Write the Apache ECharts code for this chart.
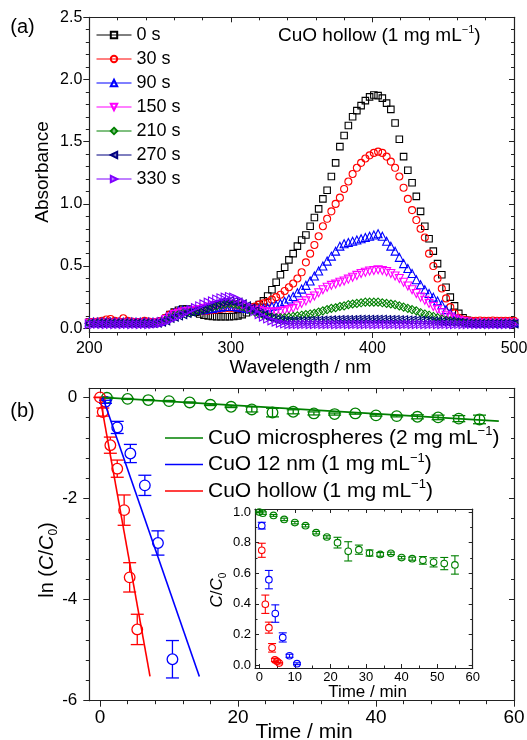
<!DOCTYPE html>
<html><head><meta charset="utf-8">
<script src="https://cdn.jsdelivr.net/npm/echarts@6.0.0/dist/echarts.min.js"></script>
<style>html,body{margin:0;padding:0;background:#fff}#c{width:527px;height:740px}</style>
</head><body><div id="c"></div>
<script>
const FONT = 'Liberation Sans, Arial, Helvetica, sans-serif';

// ---------- (a) UV-vis spectra ----------
const wavelengths = [200,203,206,209,212,215,218,221,224,227,230,233,236,239,242,245,248,251,254,257,260,263,266,269,272,275,278,281,284,287,290,293,296,299,302,305,308,311,314,317,320,323,326,329,332,335,338,341,344,347,350,353,356,359,362,365,368,371,374,377,380,383,386,389,392,395,398,401,404,407,410,413,416,419,422,425,428,431,434,437,440,443,446,449,452,455,458,461,464,467,470,473,476,479,482,485,488,491,494,497,500];

const abs0s = [0.05,0.05,0.051,0.05,0.049,0.05,0.05,0.051,0.05,0.05,
0.05,0.05,0.05,0.049,0.05,0.05,0.052,0.06,0.08,0.11,
0.13,0.145,0.155,0.155,0.145,0.13,0.115,0.105,0.10,0.095,
0.093,0.092,0.092,0.093,0.095,0.10,0.11,0.125,0.15,0.17,
0.19,0.22,0.26,0.31,0.37,0.43,0.49,0.55,0.60,0.66,
0.71,0.75,0.82,0.89,0.96,1.04,1.11,1.22,1.33,1.46,
1.55,1.63,1.70,1.75,1.79,1.83,1.86,1.875,1.87,1.85,
1.81,1.76,1.65,1.52,1.38,1.27,1.17,1.06,0.94,0.82,
0.72,0.62,0.52,0.43,0.33,0.25,0.18,0.12,0.085,0.065,
0.05,0.045,0.042,0.04,0.04,0.04,0.04,0.04,0.04,0.04,0.04];

const abs30s = [0.05,0.052,0.055,0.06,0.07,0.075,0.06,0.055,0.08,0.06,
0.055,0.05,0.05,0.06,0.055,0.05,0.052,0.06,0.085,0.11,
0.125,0.135,0.14,0.14,0.14,0.138,0.136,0.138,0.14,0.145,
0.15,0.155,0.16,0.16,0.16,0.16,0.16,0.162,0.165,0.175,
0.19,0.20,0.21,0.23,0.25,0.27,0.30,0.33,0.36,0.40,
0.45,0.53,0.60,0.67,0.74,0.82,0.88,0.94,1.00,1.05,
1.12,1.18,1.24,1.29,1.33,1.365,1.39,1.41,1.42,1.41,
1.38,1.34,1.29,1.22,1.13,1.04,0.95,0.87,0.80,0.73,
0.60,0.50,0.40,0.32,0.24,0.17,0.12,0.085,0.07,0.065,
0.06,0.06,0.062,0.06,0.06,0.062,0.06,0.06,0.06,0.06,0.06];

const abs90s = [0.05,0.05,0.05,0.05,0.05,0.05,0.05,0.05,0.05,0.05,
0.05,0.05,0.05,0.05,0.05,0.05,0.052,0.06,0.08,0.105,
0.125,0.14,0.145,0.145,0.145,0.145,0.148,0.15,0.155,0.16,
0.165,0.17,0.175,0.175,0.175,0.17,0.165,0.16,0.155,0.155,
0.155,0.16,0.165,0.175,0.185,0.20,0.215,0.235,0.255,0.285,
0.315,0.345,0.38,0.42,0.46,0.50,0.54,0.58,0.62,0.66,
0.68,0.69,0.70,0.71,0.72,0.73,0.74,0.75,0.76,0.74,
0.70,0.66,0.62,0.57,0.52,0.48,0.44,0.39,0.35,0.31,
0.28,0.25,0.22,0.19,0.15,0.12,0.09,0.07,0.055,0.05,
0.045,0.045,0.045,0.045,0.045,0.045,0.045,0.045,0.045,0.045,0.045];

const abs150s = [0.04,0.04,0.04,0.04,0.04,0.04,0.04,0.04,0.04,0.04,
0.04,0.04,0.04,0.04,0.04,0.04,0.042,0.05,0.07,0.09,
0.11,0.12,0.13,0.135,0.14,0.145,0.15,0.16,0.17,0.18,
0.185,0.19,0.195,0.195,0.19,0.185,0.175,0.165,0.155,0.145,
0.14,0.135,0.13,0.13,0.13,0.135,0.14,0.15,0.16,0.18,
0.20,0.22,0.24,0.26,0.285,0.31,0.33,0.345,0.355,0.37,
0.38,0.395,0.41,0.425,0.44,0.45,0.46,0.465,0.47,0.465,
0.455,0.44,0.42,0.40,0.37,0.34,0.31,0.28,0.25,0.225,
0.20,0.175,0.15,0.125,0.105,0.09,0.075,0.065,0.055,0.05,
0.04,0.04,0.04,0.04,0.04,0.04,0.04,0.04,0.04,0.04,0.04];

const abs210s = [0.04,0.04,0.04,0.04,0.04,0.04,0.04,0.04,0.04,0.04,
0.04,0.04,0.04,0.04,0.04,0.04,0.042,0.05,0.065,0.08,
0.10,0.11,0.12,0.125,0.13,0.135,0.14,0.15,0.16,0.17,
0.18,0.19,0.195,0.20,0.195,0.19,0.175,0.16,0.145,0.13,
0.115,0.105,0.095,0.09,0.085,0.085,0.085,0.09,0.095,0.10,
0.105,0.11,0.115,0.12,0.13,0.14,0.15,0.16,0.165,0.175,
0.18,0.19,0.195,0.20,0.205,0.21,0.21,0.21,0.21,0.205,
0.20,0.195,0.19,0.18,0.17,0.16,0.15,0.14,0.125,0.115,
0.105,0.095,0.085,0.075,0.065,0.06,0.055,0.05,0.045,0.04,
0.04,0.04,0.04,0.04,0.04,0.04,0.04,0.04,0.04,0.04,0.04];

const abs270s = [0.04,0.04,0.04,0.04,0.04,0.04,0.04,0.04,0.04,0.04,
0.04,0.04,0.04,0.04,0.04,0.04,0.042,0.05,0.06,0.08,
0.09,0.10,0.11,0.12,0.13,0.14,0.15,0.16,0.175,0.19,
0.20,0.21,0.215,0.22,0.215,0.21,0.195,0.18,0.16,0.14,
0.12,0.105,0.09,0.08,0.07,0.065,0.06,0.06,0.06,0.06,
0.06,0.06,0.062,0.062,0.064,0.065,0.066,0.067,0.068,0.07,
0.07,0.07,0.07,0.072,0.072,0.072,0.072,0.072,0.072,0.072,
0.07,0.07,0.07,0.068,0.068,0.066,0.065,0.064,0.063,0.062,
0.06,0.058,0.056,0.054,0.052,0.05,0.048,0.045,0.043,0.04,
0.038,0.036,0.035,0.035,0.035,0.035,0.035,0.035,0.035,0.035,0.035];

const abs330s = [0.032,0.03,0.033,0.031,0.03,0.032,0.03,0.031,0.03,0.032,
0.03,0.031,0.03,0.032,0.03,0.031,0.035,0.04,0.05,0.065,
0.08,0.095,0.11,0.13,0.15,0.165,0.18,0.195,0.21,0.22,
0.235,0.245,0.25,0.255,0.25,0.235,0.215,0.19,0.16,0.135,
0.11,0.09,0.075,0.06,0.05,0.04,0.035,0.03,0.03,0.03,
0.03,0.031,0.03,0.03,0.031,0.03,0.03,0.031,0.03,0.03,
0.031,0.03,0.03,0.031,0.03,0.03,0.031,0.03,0.03,0.031,
0.03,0.03,0.031,0.03,0.03,0.031,0.03,0.03,0.031,0.03,
0.03,0.031,0.03,0.03,0.031,0.03,0.03,0.031,0.03,0.03,
0.031,0.03,0.03,0.031,0.03,0.03,0.031,0.03,0.03,0.031,0.03];

const spectraNames = ['0 s','30 s','90 s','150 s','210 s','270 s','330 s'];
const spectraValues = [abs0s, abs30s, abs90s, abs150s, abs210s, abs270s, abs330s];
const absTicks = [0, 0.5, 1.0, 1.5, 2.0, 2.5];
const absMinorTicks = [0.1,0.2,0.3,0.4,0.6,0.7,0.8,0.9,1.1,1.2,1.3,1.4,1.6,1.7,1.8,1.9,2.1,2.2,2.3,2.4];
const wlTicks = [200, 300, 400, 500];
const wlMinorTicks = [220,240,260,280,320,340,360,380,420,440,460,480];

// ---------- (b) kinetics, ln(C/C0) ----------
const microTime = [1,4,7,10,13,16,19,22,25,28,31,34,37,40,43,46,49,52,55];
const microLn = [-0.008,-0.03,-0.053,-0.073,-0.10,-0.146,-0.186,-0.238,-0.30,-0.285,-0.317,-0.33,-0.317,-0.356,-0.37,-0.384,-0.396,-0.42,-0.436];
const microLnErr = [0.01,0.01,0.01,0.012,0.01,0.015,0.015,0.05,0.085,0.04,0.03,0.02,0.015,0.015,0.015,0.04,0.045,0.06,0.085];
const nm12Time = [0.8,2.5,4.4,6.5,8.4,10.5];
const nm12Ln = [-0.087,-0.594,-1.11,-1.74,-2.88,-5.18];
const nm12LnErr = [0.03,0.12,0.18,0.2,0.24,0.37];
const hollowTime = [0,0.4,1.5,2.5,3.5,4.3,5.4];
const hollowLn = [0,-0.29,-0.945,-1.41,-2.23,-3.56,-4.59];
const hollowLnErr = [0.005,0.08,0.16,0.17,0.3,0.29,0.3];
const microFit = [[0.3, 0], [57.8, -0.47]];
const nm12Fit = [[0.4, 0], [14.4, -5.52]];
const hollowFit = [[0, 0], [7.25, -5.52]];
const fitNames = ['CuO microspheres (2 mg mL−1)', 'CuO 12 nm (1 mg mL−1)', 'CuO hollow (1 mg mL−1)'];
const timeTicks = [0, 20, 40, 60];
const timeMinorTicks = [4,8,12,16,24,28,32,36,44,48,52,56];
const lnTicks = [-6, -4, -2, 0];
const lnMinorTicks = [-5.6,-5.2,-4.8,-4.4,-3.6,-3.2,-2.8,-2.4,-1.6,-1.2,-0.8,-0.4];

// ---------- (b) inset, C/C0 ----------
const insetMicroTime = [0,1,4,7,10,13,16,19,22,25,28,31,34,37,40,43,46,49,52,55];
const insetMicroC = [1.0,0.993,0.978,0.952,0.931,0.911,0.865,0.837,0.80,0.743,0.754,0.732,0.723,0.73,0.702,0.695,0.684,0.671,0.663,0.654];
const insetMicroErr = [0.005,0.008,0.006,0.008,0.008,0.008,0.008,0.008,0.035,0.063,0.03,0.02,0.012,0.008,0.008,0.01,0.025,0.03,0.04,0.06];
const insetNm12Time = [0.7,2.7,4.5,6.6,8.5,10.6];
const insetNm12C = [0.911,0.558,0.336,0.18,0.06,0.008];
const insetNm12Err = [0.022,0.06,0.057,0.03,0.01,0.006];
const insetHollowTime = [0.7,1.7,2.7,3.6,4.4,5.0,5.6];
const insetHollowC = [0.75,0.397,0.244,0.112,0.033,0.024,0.012];
const insetHollowErr = [0.046,0.06,0.036,0.028,0.01,0.008,0.005];
const insetTimeTicks = [0,10,20,30,40,50,60];
const insetTimeMinor = [5,15,25,35,45,55];
const insetCTicks = [0,0.2,0.4,0.6,0.8,1.0];
const insetCMinor = [0.1,0.3,0.5,0.7,0.9];

// ---------- styling ----------
const spectraColors = ['#000000','#ff0000','#0000ff','#ff00ff','#008000','#000080','#8000ff'];
const spectraSymbols = ['rect','circle','triangle','triangle','diamond','triangle','triangle'];
const spectraRotate = [0,0,0,180,0,90,-90];
const spectraSizes = [6.5,7,8,8,8,8,8];
const kinColors = ['#008000','#0000ff','#ff0000'];
const AX = '#222';

const xAxes = [], yAxes = [];
function mkAxis(g, s, pos, line, values, len, inside, labels) {
  return {
    type: 'value', gridIndex: g, min: s.min, max: s.max, position: pos, silent: true,
    axisLine: {show: line, onZero: false, lineStyle: {color: AX, width: 1.2}},
    axisTick: {show: true, inside: inside, length: len, customValues: values, lineStyle: {color: AX, width: 1}},
    axisLabel: labels ? {show: true, customValues: values, formatter: s.fmt, color: '#000',
      fontSize: s.fs, fontFamily: FONT, margin: s.margin} : {show: false},
    splitLine: {show: false}, minorTick: {show: false}, axisPointer: {show: false}
  };
}
function addAxes(g, xs, ys) {
  const xi = xAxes.length, yi = yAxes.length;
  [[xAxes, xs, 'bottom', 'top'], [yAxes, ys, 'left', 'right']].forEach(function (d) {
    const arr = d[0], s = d[1];
    arr.push(mkAxis(g, s, d[2], true, s.major, s.majLen, !s.out, true));
    arr.push(mkAxis(g, s, d[2], false, s.minor, s.minLen, !s.out, false));
    arr.push(mkAxis(g, s, d[3], true, s.major, s.oppMaj, true, false));
    arr.push(mkAxis(g, s, d[3], false, s.minor, s.oppMin, true, false));
  });
  return {xi: xi, yi: yi};
}
const fmt1 = function (v) { return v.toFixed(1); };
const fmt0 = function (v) { return String(Math.round(v)); };

const axA = addAxes(0,
  {min: 200, max: 500, major: wlTicks, minor: wlMinorTicks, fmt: fmt0, fs: 16, margin: 9, out: true, majLen: 6, minLen: 3.5, oppMaj: 5, oppMin: 3},
  {min: -0.03, max: 2.5, major: absTicks, minor: absMinorTicks, fmt: fmt1, fs: 16, margin: 7, out: true, majLen: 6, minLen: 3.5, oppMaj: 5, oppMin: 3});
const axB = addAxes(1,
  {min: -1.55, max: 60, major: timeTicks, minor: timeMinorTicks, fmt: fmt0, fs: 19, margin: 8, out: true, majLen: 6, minLen: 3.5, oppMaj: 5, oppMin: 3},
  {min: -6, max: 0.18, major: lnTicks, minor: lnMinorTicks, fmt: fmt0, fs: 17, margin: 12, out: true, majLen: 6, minLen: 3.5, oppMaj: 5, oppMin: 3});
const axI = addAxes(2,
  {min: -1.2, max: 60, major: insetTimeTicks, minor: insetTimeMinor, fmt: fmt0, fs: 13, margin: 3, out: false, majLen: 4, minLen: 2.5, oppMaj: 4, oppMin: 2.5},
  {min: -0.02, max: 1.02, major: insetCTicks, minor: insetCMinor, fmt: fmt1, fs: 13, margin: 4, out: false, majLen: 4, minLen: 2.5, oppMaj: 4, oppMin: 2.5});

function pairs(xs, ys, es) {
  return xs.map(function (x, i) { return es ? [x, ys[i], es[i]] : [x, ys[i]]; });
}
function errRender(color, r, capHalf, lw) {
  return function (params, api) {
    const t = api.value(0), v = api.value(1), e = api.value(2);
    const c = api.coord([t, v]);
    const hi = api.coord([t, v + e]);
    const lo = api.coord([t, v - e]);
    const st = {stroke: color, lineWidth: lw, fill: 'none'};
    const ch = [{type: 'circle', shape: {cx: c[0], cy: c[1], r: r}, style: st}];
    if (lo[1] - c[1] > r) {
      ch.push({type: 'line', shape: {x1: c[0], y1: hi[1], x2: c[0], y2: c[1] - r}, style: st});
      ch.push({type: 'line', shape: {x1: c[0], y1: c[1] + r, x2: c[0], y2: lo[1]}, style: st});
    } else {
      ch.push({type: 'line', shape: {x1: c[0], y1: hi[1], x2: c[0], y2: lo[1]}, style: st});
    }
    ch.push({type: 'line', shape: {x1: c[0] - capHalf, y1: hi[1], x2: c[0] + capHalf, y2: hi[1]}, style: st});
    ch.push({type: 'line', shape: {x1: c[0] - capHalf, y1: lo[1], x2: c[0] + capHalf, y2: lo[1]}, style: st});
    return {type: 'group', children: ch};
  };
}

const series = [];
spectraNames.forEach(function (name, k) {
  const c = spectraColors[k];
  series.push({
    type: 'line', name: name, xAxisIndex: axA.xi, yAxisIndex: axA.yi,
    data: pairs(wavelengths, spectraValues[k]),
    symbol: spectraSymbols[k], symbolSize: spectraSizes[k], symbolRotate: spectraRotate[k],
    showSymbol: true, showAllSymbol: true, clip: true,
    lineStyle: {color: c, width: 0},
    itemStyle: {color: 'rgba(255,255,255,0)', borderColor: c, borderWidth: 1.1},
    emphasis: {disabled: true}
  });
});
const mainSets = [[microTime, microLn, microLnErr], [nm12Time, nm12Ln, nm12LnErr], [hollowTime, hollowLn, hollowLnErr]];
const fits = [microFit, nm12Fit, hollowFit];
mainSets.forEach(function (s, k) {
  series.push({
    type: 'custom', xAxisIndex: axB.xi, yAxisIndex: axB.yi,
    data: pairs(s[0], s[1], s[2]), encode: {x: 0, y: 1},
    renderItem: errRender(kinColors[k], 5.3, 6.5, 1.3), z: 3
  });
});
fits.forEach(function (f, k) {
  series.push({
    type: 'line', name: fitNames[k], xAxisIndex: axB.xi, yAxisIndex: axB.yi,
    data: f, symbol: 'none', lineStyle: {color: kinColors[k], width: 1.6},
    itemStyle: {color: kinColors[k]}, emphasis: {disabled: true}, z: 4
  });
});
const insetSets = [[insetMicroTime, insetMicroC, insetMicroErr], [insetNm12Time, insetNm12C, insetNm12Err], [insetHollowTime, insetHollowC, insetHollowErr]];
[2, 1, 0].forEach(function (k) {
  const s = insetSets[k];
  series.push({
    type: 'custom', xAxisIndex: axI.xi, yAxisIndex: axI.yi,
    data: pairs(s[0], s[1], s[2]), encode: {x: 0, y: 1},
    renderItem: errRender(kinColors[k], 3.3, 4, 1.1), z: 6
  });
});

function supRich(main) {
  return {
    t: {fontSize: main, fontFamily: FONT, lineHeight: main + 5, color: '#000'},
    s: {fontSize: Math.round(main * 0.6), fontFamily: FONT, lineHeight: Math.round(main * 0.8), verticalAlign: 'top', color: '#000'}
  };
}
function supText(name) {
  const m = name.match(/^(.*)−1\)$/);
  return m ? '{t|' + m[1] + '}{s|−1}{t|)}' : '{t|' + name + '}';
}

const graphics = [
  {type: 'text', x: 22.5, y: 27, style: {text: '(a)', fontSize: 20, fontFamily: FONT, fill: '#000', align: 'center', verticalAlign: 'middle'}},
  {type: 'text', x: 22.5, y: 411, style: {text: '(b)', fontSize: 20, fontFamily: FONT, fill: '#000', align: 'center', verticalAlign: 'middle'}},
  {type: 'text', x: 42.5, y: 172, rotation: Math.PI / 2, style: {text: 'Absorbance', fontSize: 19, fontFamily: FONT, fill: '#000', align: 'center', verticalAlign: 'middle'}},
  {type: 'text', x: 300.5, y: 368, style: {text: 'Wavelength / nm', fontSize: 19, fontFamily: FONT, fill: '#000', align: 'center', verticalAlign: 'middle'}},
  {type: 'text', x: 278, y: 36, style: {text: supText('CuO hollow (1 mg mL−1)'), rich: supRich(19), fill: '#000', align: 'left', verticalAlign: 'middle'}},
  {type: 'text', x: 47, y: 560, rotation: Math.PI / 2, style: {
    text: '{n|ln (}{i|C}{n|/}{i|C}{b|0}{n|)}', fill: '#000', align: 'center', verticalAlign: 'middle',
    rich: {n: {fontSize: 20, fontFamily: FONT, lineHeight: 26}, i: {fontSize: 20, fontFamily: FONT, fontStyle: 'italic', lineHeight: 26},
           b: {fontSize: 12, fontFamily: FONT, lineHeight: 15, verticalAlign: 'bottom'}}}},
  {type: 'text', x: 304, y: 732, style: {text: 'Time / min', fontSize: 21, fontFamily: FONT, fill: '#000', align: 'center', verticalAlign: 'middle'}},
  {type: 'text', x: 367.5, y: 692, z: 10, style: {text: 'Time / min', fontSize: 17, fontFamily: FONT, fill: '#000', align: 'center', verticalAlign: 'middle'}},
  {type: 'text', x: 217.5, y: 590, rotation: Math.PI / 2, z: 10, style: {
    text: '{i|C}{n|/}{i|C}{b|0}', fill: '#000', align: 'center', verticalAlign: 'middle',
    rich: {n: {fontSize: 17, fontFamily: FONT, lineHeight: 22}, i: {fontSize: 17, fontFamily: FONT, fontStyle: 'italic', lineHeight: 22},
           b: {fontSize: 10, fontFamily: FONT, lineHeight: 13, verticalAlign: 'bottom'}}}}
];

const option = {
  animation: false,
  backgroundColor: '#fff',
  textStyle: {fontFamily: FONT},
  grid: [
    {left: 89.3, top: 17.3, right: 13, bottom: 408, outerBoundsMode: 'none', containLabel: false},
    {left: 89.3, top: 388.3, right: 13, bottom: 39.3, outerBoundsMode: 'none', containLabel: false},
    {left: 255, top: 509, right: 54.3, bottom: 72, outerBoundsMode: 'none', containLabel: false}
  ],
  xAxis: xAxes,
  yAxis: yAxes,
  legend: [
    {data: spectraNames, orient: 'vertical', left: 96, top: 26, padding: 0, itemWidth: 35, itemHeight: 8, itemGap: 6,
     selectedMode: false, textStyle: {fontSize: 18, fontFamily: FONT, color: '#000', lineHeight: 18},
     lineStyle: {width: 1}},
    {data: fitNames.map(function (n) { return {name: n, icon: 'rect'}; }), orient: 'vertical', left: 165, top: 425, padding: 0,
     itemWidth: 38, itemHeight: 1.6, itemGap: 3, selectedMode: false,
     formatter: supText, textStyle: {fontSize: 21, fontFamily: FONT, color: '#000', rich: supRich(21)}}
  ],
  graphic: graphics,
  series: series
};
const chart = echarts.init(document.getElementById('c'), null, {renderer: 'canvas'});
chart.setOption(option);
</script></body></html>
